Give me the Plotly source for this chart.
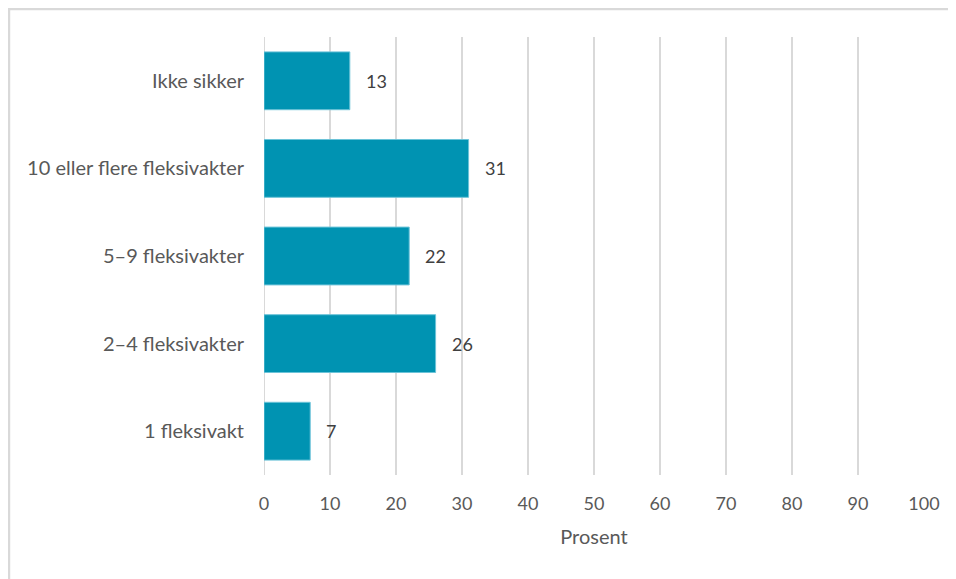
import plotly.graph_objects as go

categories = ["1 fleksivakt", "2–4 fleksivakter", "5–9 fleksivakter",
              "10 eller flere fleksivakter", "Ikke sikker"]
values = [7, 26, 22, 31, 13]
x_ticks = list(range(0, 101, 10))

BAR = "#0093B2"
TXT = "#595959"
GRID = "#D9D9D9"
FONT = "Lato"

fig = go.Figure()
fig.add_trace(go.Bar(
    x=values, y=categories, orientation="h",
    marker=dict(color=BAR, line=dict(color="#6CC3D8", width=1)),
    hoverinfo="skip",
))

# value labels to the right of each bar
for v, c in zip(values, categories):
    fig.add_annotation(
        x=v, y=c, text=str(v), showarrow=False,
        xanchor="left", xshift=14,
        font=dict(size=18, color="#404040", family=FONT),
    )

# light frame (only top and left edge visible in the crop)
fig.add_shape(
    type="path", xref="paper", yref="paper",
    path="M -0.3864,-0.3 L -0.3864,1.0639 L 1.1,1.0639",
    line=dict(color=GRID, width=2.5),
)

fig.update_xaxes(
    range=[0, 100], tickvals=x_ticks,
    showgrid=True, gridcolor=GRID, gridwidth=2,
    zeroline=False, showline=False, ticks="",
    ticklabelstandoff=16,
    tickfont=dict(size=18, color=TXT, family=FONT),
    title=dict(text="Prosent", standoff=16,
               font=dict(size=20, color=TXT, family=FONT)),
)
fig.update_yaxes(
    showgrid=False, zeroline=False, showline=False, ticks="",
    ticklabelstandoff=19,
    tickfont=dict(size=20, color=TXT, family=FONT),
)
fig.add_vline(x=0, line=dict(color=GRID, width=2), layer="below")

fig.update_layout(
    width=948, height=571,
    margin=dict(l=256, r=32, t=29, b=104),
    bargap=0.34,
    showlegend=False,
    plot_bgcolor="white", paper_bgcolor="white",
    font=dict(family=FONT, color=TXT),
)

fig.write_html("out.html")
